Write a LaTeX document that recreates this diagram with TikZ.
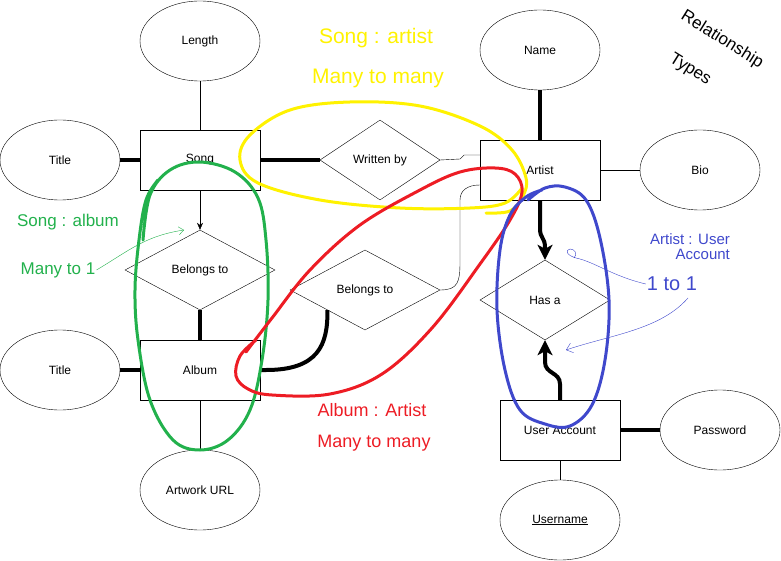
\documentclass[tikz,border=0pt]{standalone}
\usepackage{fontspec}
\setmainfont{Liberation Sans}
\usetikzlibrary{shapes.geometric,arrows.meta}
\definecolor{hyellow}{RGB}{255,242,0}
\definecolor{hgreen}{RGB}{34,177,76}
\definecolor{hred}{RGB}{237,28,36}
\definecolor{hblue}{RGB}{63,72,204}
\begin{document}
\begin{tikzpicture}[x=1pt, y=-1pt, font=\fontsize{12}{14}\selectfont, >=Stealth,
	ent/.style={draw, minimum width=120pt, minimum height=60pt, inner sep=0pt},
	attr/.style={draw, ellipse, minimum width=120pt, minimum height=80pt, inner sep=0pt},
	rel/.style={draw, diamond, minimum width=150pt, minimum height=80pt, inner sep=0pt},
	fat/.style={line width=4pt},
	pen/.style={line width=3pt, line cap=round, line join=round},
	hand/.style={font=\fontsize{#1}{#1}\selectfont, inner sep=1pt}]
	\useasboundingbox (0,0) rectangle (781,561);
	\node[attr] (len) at (200,41) {Length};
	\node[ent] (song) at (200,160) {Song};
	\node[attr] (tit1) at (60,160) {Title};
	\node[rel, minimum width=120pt] (wb) at (380,160) {Written by};
	\node[ent] (art) at (540,170) {Artist};
	\node[attr] (name) at (540,50) {Name};
	\node[attr] (bio) at (700,170) {Bio};
	\node[rel, minimum width=130pt] (has) at (545,300) {Has a};
	\node[ent] (usr) at (560,430) {User Account};
	\node[attr] (pw) at (720,430) {Password};
	\node[attr] (un) at (560,520) {\underline{Username}};
	\node[rel] (bt1) at (200,270) {Belongs to};
	\node[ent] (alb) at (200,370) {Album};
	\node[attr] (tit2) at (60,370) {Title};
	\node[attr] (url) at (200,490) {Artwork URL};
	\node[rel] (bt2) at (365,290) {Belongs to};
	\draw (len)--(song) (art)--(bio) (alb)--(url) (usr)--(un);
	\draw[fat] (tit1)--(song) (song)--(wb) (bt1)--(alb) (tit2)--(alb) (name)--(art) (usr)--(pw);
	\draw[-{Stealth[length=7pt,width=6pt]}] (song)--(bt1);
	\draw (wb.east) -- ++(20,-1) -- ++(4,-4) -- ([yshift=15pt]art.west);
	\draw (bt2.east) .. controls (458,290) and (460,282) .. (460,262) -- (460,200) .. controls (460,190) and (468,185) .. ([yshift=-15pt]art.west);
	\draw[fat] (alb.east) -- ++(6,0) .. controls (318,370) and (328,345) .. (bt2.south west);
	\draw[fat, -{Stealth[length=15pt,width=15pt,inset=4pt]}] (art.south) -- (540,228) .. controls (540,240) and (545,236) .. (545,248) -- (has.north);
	\draw[fat, -{Stealth[length=15pt,width=15pt,inset=4pt]}] (usr.north) -- (560,384) .. controls (560,372) and (545,374) .. (545,362) -- (has.south);
	% song : artist
	\draw[pen, hyellow] plot[smooth, tension=0.6] coordinates {(486,213) (510,211) (523,196) (526,178) (512,150) (480,126) (420,106) (350,102) (290,110) (250,135) (240,160) (258,183) (320,200) (400,208) (470,208) (505,203) (522,188)};
	\node[hyellow, hand=21] (t1) at (376,38) {Song : artist};
	\node[hyellow, hand=21] (t2) at (378,78) {Many to many};
	% song : album
	\draw[pen, hgreen] plot[smooth, tension=0.6] coordinates {(143,240) (150,195) (170,170) (200,162) (235,172) (258,198) (266,240) (268,300) (262,360) (250,410) (228,440) (200,450) (173,440) (150,400) (138,340) (135,290) (139,240) (146,200) (158,180)};
	\node[hgreen, hand=17] (t3) at (68,222) {Song : album};
	\node[hgreen, hand=17] (t4) at (58,270) {Many to 1};
	\draw[hgreen, -{Straight Barb[length=5pt,width=8pt]}] (t4.east) .. controls (130,250) and (145,236) .. (184,230);
	% album : artist
	\draw[pen, hred] plot[smooth, tension=0.6] coordinates {(256,340) (240,356) (236,376) (248,389) (272,395) (330,394) (382,374) (432,328) (480,264) (510,220) (522,192) (515,174) (495,168) (460,172) (420,190) (360,225) (310,270) (272,318) (246,352)};
	\node[hred, hand=18] (t5) at (372,410) {Album : Artist};
	\node[hred, hand=18] (t6) at (374,443) {Many to many};
	% artist : user account
	\draw[pen, hblue] plot[smooth, tension=0.6] coordinates {(528,200) (545,188) (565,187) (586,200) (600,238) (609,300) (605,360) (592,405) (570,426) (545,424) (520,410) (505,370) (497,310) (500,250) (510,215) (526,197) (542,190)};
	\node[hblue, hand=15, align=right] (t7) at (690,247) {Artist : User\\Account};
	\node[hblue, hand=20] (t8) at (672,284) {1 to 1};
	\draw[hblue] (t8.west) .. controls (612,276) and (595,262) .. (576,258) .. controls (566,255) and (565,250) .. (570,249) .. controls (575,249) and (578,254) .. (574,258);
	\draw[hblue, -{Straight Barb[length=6pt,width=10pt]}] (688,298) .. controls (660,330) and (610,335) .. (566,350);
	% types
	\node[rotate=-32, hand=17] (t9) at (722,40) {Relationship};
	\node[rotate=-32, hand=17] (t10) at (690,70) {Types};
\end{tikzpicture}
\end{document}
